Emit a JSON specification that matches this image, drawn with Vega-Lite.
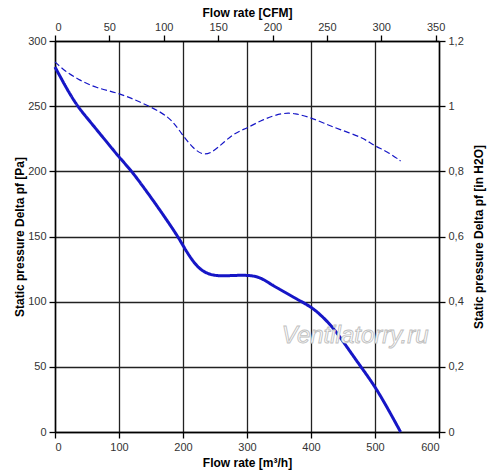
{
  "$schema": "https://vega.github.io/schema/vega-lite/v6.json",
  "autosize": {"type": "none"},
  "width": 384,
  "height": 391,
  "padding": {"left": 55, "top": 41, "right": 61, "bottom": 41},
  "background": "white",
  "config": {
    "view": {"stroke": null},
    "font": "Liberation Sans",
    "axis": {
      "labelFont": "Liberation Sans",
      "labelFontSize": 11,
      "labelColor": "#333333",
      "titleFont": "Liberation Sans",
      "titleFontSize": 12,
      "titleFontWeight": "bold",
      "titleColor": "#000000",
      "domainColor": "#000000",
      "domainWidth": 1.5,
      "tickColor": "#000000",
      "tickWidth": 1.3,
      "tickSize": 6,
      "labelPadding": 3,
      "gridColor": "#222222",
      "gridWidth": 1.3,
      "gridOpacity": 1
    }
  },
  "datasets": {
    "curves": [
      {"flow": 0, "pressure": 280, "series": "static"},
      {"flow": 10, "pressure": 271, "series": "static"},
      {"flow": 20, "pressure": 262, "series": "static"},
      {"flow": 35, "pressure": 250, "series": "static"},
      {"flow": 50, "pressure": 241, "series": "static"},
      {"flow": 70, "pressure": 229, "series": "static"},
      {"flow": 85, "pressure": 220, "series": "static"},
      {"flow": 100, "pressure": 211, "series": "static"},
      {"flow": 120, "pressure": 200, "series": "static"},
      {"flow": 135, "pressure": 190, "series": "static"},
      {"flow": 150, "pressure": 180, "series": "static"},
      {"flow": 170, "pressure": 166, "series": "static"},
      {"flow": 192, "pressure": 150, "series": "static"},
      {"flow": 200, "pressure": 143, "series": "static"},
      {"flow": 215, "pressure": 131, "series": "static"},
      {"flow": 230, "pressure": 123, "series": "static"},
      {"flow": 250, "pressure": 119.5, "series": "static"},
      {"flow": 275, "pressure": 120, "series": "static"},
      {"flow": 300, "pressure": 120.5, "series": "static"},
      {"flow": 320, "pressure": 119, "series": "static"},
      {"flow": 335, "pressure": 114, "series": "static"},
      {"flow": 360, "pressure": 107, "series": "static"},
      {"flow": 385, "pressure": 100, "series": "static"},
      {"flow": 400, "pressure": 96, "series": "static"},
      {"flow": 415, "pressure": 90, "series": "static"},
      {"flow": 435, "pressure": 80, "series": "static"},
      {"flow": 455, "pressure": 66, "series": "static"},
      {"flow": 478, "pressure": 50, "series": "static"},
      {"flow": 500, "pressure": 35, "series": "static"},
      {"flow": 520, "pressure": 18, "series": "static"},
      {"flow": 540, "pressure": 0, "series": "static"},
      {"flow": 0, "pressure": 284, "series": "dashed"},
      {"flow": 15, "pressure": 277, "series": "dashed"},
      {"flow": 38, "pressure": 270, "series": "dashed"},
      {"flow": 64, "pressure": 264, "series": "dashed"},
      {"flow": 100, "pressure": 260, "series": "dashed"},
      {"flow": 132, "pressure": 253.5, "series": "dashed"},
      {"flow": 168, "pressure": 245, "series": "dashed"},
      {"flow": 185, "pressure": 238, "series": "dashed"},
      {"flow": 199, "pressure": 228, "series": "dashed"},
      {"flow": 215, "pressure": 218, "series": "dashed"},
      {"flow": 234, "pressure": 211, "series": "dashed"},
      {"flow": 255, "pressure": 218, "series": "dashed"},
      {"flow": 278, "pressure": 229, "series": "dashed"},
      {"flow": 300, "pressure": 233, "series": "dashed"},
      {"flow": 325, "pressure": 240, "series": "dashed"},
      {"flow": 356, "pressure": 245, "series": "dashed"},
      {"flow": 375, "pressure": 244.5, "series": "dashed"},
      {"flow": 398, "pressure": 241.5, "series": "dashed"},
      {"flow": 420, "pressure": 237, "series": "dashed"},
      {"flow": 445, "pressure": 232, "series": "dashed"},
      {"flow": 481, "pressure": 226, "series": "dashed"},
      {"flow": 497, "pressure": 220, "series": "dashed"},
      {"flow": 520, "pressure": 215, "series": "dashed"},
      {"flow": 540, "pressure": 208, "series": "dashed"}
    ],
    "mark": [{"flow": 469, "pressure": 74, "label": "Ventilatorry.ru"}],
    "cfm": [{"cfm": 0}, {"cfm": 350}],
    "inh2o": [{"inh2o": 0}, {"inh2o": 1.2}]
  },
  "layer": [
    {
      "layer": [
        {
          "data": {"name": "curves"},
          "mark": {"type": "line", "interpolate": "basis", "color": "#1616c6"},
          "encoding": {
            "x": {
              "field": "flow",
              "type": "quantitative",
              "scale": {"domain": [0, 600], "nice": false},
              "axis": {
                "orient": "bottom",
                "title": "Flow rate [m³/h]",
                "values": [0, 100, 200, 300, 400, 500, 600],
                "grid": true,
                "titlePadding": 5
              }
            },
            "y": {
              "field": "pressure",
              "type": "quantitative",
              "scale": {"domain": [0, 300], "nice": false},
              "axis": {
                "orient": "left",
                "title": "Static pressure Delta pf [Pa]",
                "values": [0, 50, 100, 150, 200, 250, 300],
                "grid": true,
                "titlePadding": 1
              }
            },
            "detail": {"field": "series"},
            "strokeWidth": {
              "field": "series",
              "type": "nominal",
              "scale": {"domain": ["static", "dashed"], "range": [3, 1.2]},
              "legend": null
            },
            "strokeDash": {
              "field": "series",
              "type": "nominal",
              "scale": {"domain": ["static", "dashed"], "range": [[1, 0], [6, 3]]},
              "legend": null
            }
          }
        },
        {
          "data": {"name": "mark"},
          "mark": {
            "type": "text",
            "font": "Liberation Sans",
            "fontSize": 24,
            "fontStyle": "italic",
            "fill": "#ffffff",
            "stroke": "#c0c0c0",
            "strokeWidth": 0.9
          },
          "encoding": {
            "x": {"field": "flow", "type": "quantitative"},
            "y": {"field": "pressure", "type": "quantitative"},
            "text": {"field": "label"}
          }
        }
      ]
    },
    {
      "data": {"name": "cfm"},
      "mark": {"type": "point", "opacity": 0},
      "encoding": {
        "x": {
          "field": "cfm",
          "type": "quantitative",
          "scale": {"domain": [0, 353.1], "nice": false},
          "axis": {
            "orient": "top",
            "title": "Flow rate [CFM]",
            "values": [0, 50, 100, 150, 200, 250, 300, 350],
            "grid": false,
            "titlePadding": 2
          }
        }
      }
    },
    {
      "data": {"name": "inh2o"},
      "mark": {"type": "point", "opacity": 0},
      "encoding": {
        "y": {
          "field": "inh2o",
          "type": "quantitative",
          "scale": {"domain": [0, 1.2], "nice": false},
          "axis": {
            "orient": "right",
            "title": "Static pressure Delta pf [in H2O]",
            "titleAngle": 270,
            "titleX": 39,
            "titleY": 195.5,
            "titleAlign": "center",
            "titleBaseline": "middle",
            "values": [0, 0.2, 0.4, 0.6, 0.8, 1, 1.2],
            "labelExpr": "replace(format(datum.value, '.1~f'), '.', ',')",
            "grid": false
          }
        }
      }
    }
  ],
  "resolve": {"scale": {"x": "independent", "y": "independent"}}
}
